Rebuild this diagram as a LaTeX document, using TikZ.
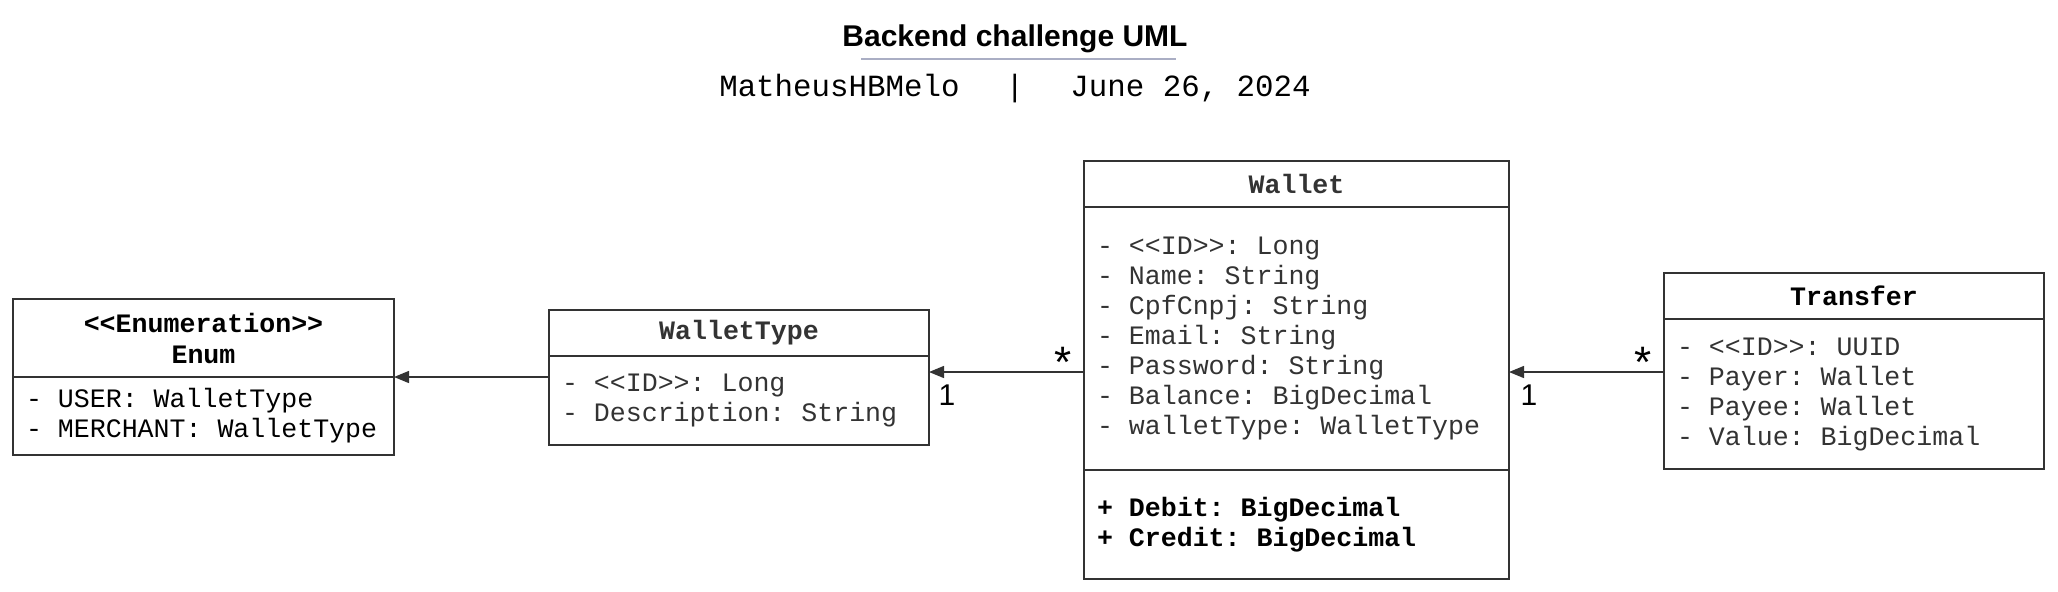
\documentclass[tikz,border=0pt]{standalone}
\usepackage{fontspec}
\setmainfont{Liberation Sans}
\setmonofont{Liberation Mono}
\usepackage{tikz}
\usetikzlibrary{positioning,arrows.meta}

\definecolor{edge}{HTML}{333333}
\definecolor{rule}{RGB}{170,174,196}

\begin{document}
\begin{tikzpicture}[x=0.5pt,y=-0.5pt,>={Triangle[length=7.5pt,width=6pt]}]
  \tikzstyle{head}=[draw=edge,line width=1pt,outer sep=0pt,anchor=north west,inner sep=0pt,align=center,font=\ttfamily\bfseries\fontsize{13.3}{15.5}\selectfont,execute at begin node={\spaceskip=0pt\xspaceskip=0pt}]
  \tikzstyle{body}=[draw=edge,line width=1pt,outer sep=0pt,anchor=north west,inner xsep=6.5pt,inner ysep=0pt,align=left,font=\ttfamily\fontsize{13.3}{15}\selectfont,execute at begin node={\spaceskip=0pt\xspaceskip=0pt}]
  \tikzstyle{mult}=[anchor=base,inner sep=0pt,font=\fontsize{15}{15}\selectfont]
  \tikzstyle{star}=[anchor=base,inner sep=0pt,font=\fontsize{22}{22}\selectfont]
  \tikzstyle{link}=[->,draw=edge,line width=0.7pt]

  \useasboundingbox (0,0) rectangle (2058,591);

  \node[font=\bfseries\fontsize{15}{15}\selectfont] (title) at (1015,39) {Backend challenge UML};
  \node[font=\ttfamily\fontsize{15.4}{15.4}\selectfont] (sub) at (1015,89) {MatheusHBMelo\hspace{1.5em}|\hspace{1.5em}June 26, 2024};
  \coordinate (r1) at (861,59);
  \coordinate (r2) at (1176,59);
  \draw[rule,line width=1.2pt] (r1) -- (r2);

  \node[head,text width=190.5pt,minimum height=39pt] (enum) at (13,299) {<<Enumeration>>\\Enum};
  \node[body,text width=177.5pt,minimum height=39pt,below=0pt of enum] (enumbody) {- USER: WalletType\\- MERCHANT: WalletType};

  \node[head,text=edge,text width=190pt,minimum height=23pt] (wt) at (549,310) {WalletType};
  \node[body,text=edge,text width=177pt,minimum height=44.5pt,below=0pt of wt] (wtbody) {- <<ID>>: Long\\- Description: String};

  \node[head,text=edge,text width=212.5pt,minimum height=23pt] (wallet) at (1084,161) {Wallet};
  \node[body,text=edge,text width=199.5pt,minimum height=131.5pt,below=0pt of wallet] (walletattr) {- <<ID>>: Long\\- Name: String\\- CpfCnpj: String\\- Email: String\\- Password: String\\- Balance: BigDecimal\\- walletType: WalletType};
  \node[body,font=\ttfamily\bfseries\fontsize{13.3}{15}\selectfont,text width=199.5pt,minimum height=54.5pt,below=0pt of walletattr] (walletops) {+ Debit: BigDecimal\\+ Credit: BigDecimal};

  \node[head,text width=190pt,minimum height=23pt] (transfer) at (1664,273) {Transfer};
  \node[body,text=edge,text width=177pt,minimum height=75pt,below=0pt of transfer] (transferbody) {- <<ID>>: UUID\\- Payer: Wallet\\- Payee: Wallet\\- Value: BigDecimal};

  \coordinate (lvl) at (0,372);
  \draw[link] (wtbody.west |- enumbody.north) -- (enumbody.north east);
  \draw[link] (walletattr.west |- lvl) -- (wtbody.east |- lvl);
  \draw[link] (transferbody.west |- lvl) -- (walletattr.east |- lvl);

  \node[star] (m1) at (1063,377) {*};
  \node[mult] (m2) at (947,405) {1};
  \node[star] (m3) at (1643,377) {*};
  \node[mult] (m4) at (1529,405) {1};

\end{tikzpicture}
\end{document}
